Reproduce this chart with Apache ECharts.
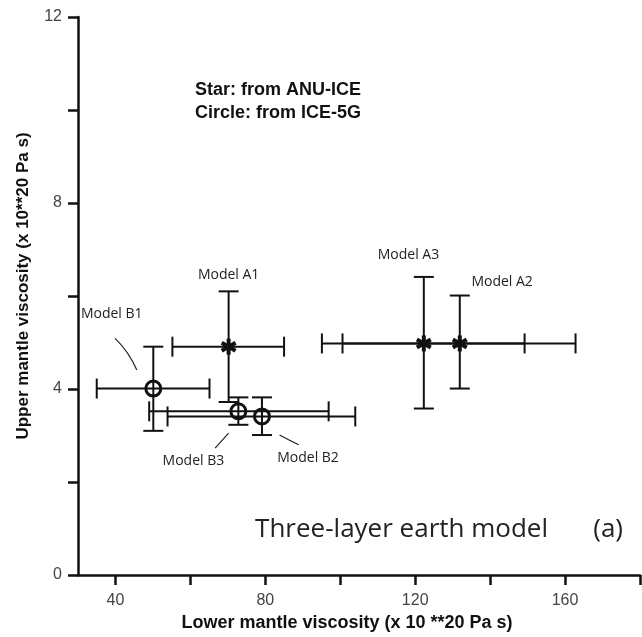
<!DOCTYPE html>
<html>
<head>
<meta charset="utf-8">
<style>
  html, body { margin: 0; padding: 0; background: #fff; }
  #chart { width: 642px; height: 637px; }
</style>
<script src="https://cdn.jsdelivr.net/npm/echarts@6/dist/echarts.min.js"></script>
</head>
<body>
<div id="chart"></div>
<script>
// values (x: lower mantle, y: upper mantle, both x 10**20 Pa s)
const models = ['Model A1', 'Model A2', 'Model A3', 'Model B1', 'Model B2', 'Model B3'];
const iceModel = ['ANU-ICE', 'ANU-ICE', 'ANU-ICE', 'ICE-5G', 'ICE-5G', 'ICE-5G'];
const lowerVisc = [70.2, 131.9, 122.3, 50.1, 79.1, 72.8];
const lowerMin = [55.2, 100.6, 95.1, 35.0, 53.9, 49.0];
const lowerMax = [85.0, 162.8, 149.2, 65.1, 104.0, 96.9];
const upperVisc = [4.91, 4.98, 4.98, 4.01, 3.41, 3.52];
const upperMin = [3.72, 4.01, 3.58, 3.10, 3.01, 3.23];
const upperMax = [6.10, 6.01, 6.41, 4.91, 3.82, 3.82];

const xTicks = [40, 60, 80, 100, 120, 140, 160, 180];
const xTickLabels = [40, 80, 120, 160];
const yTickLabels = [0, 4, 8, 12];

// model label anchors, in data coords
const labelX = [70.2, 143.2, 118.2, 39.0, 91.4, 60.8];
const labelY = [6.46, 6.30, 6.88, 5.62, 2.52, 2.46];
// leader lines for the B models [x0, y0, xCtrl, yCtrl, x1, y1]
const leaders = [
  [39.9, 5.09, 43.6, 4.80, 45.7, 4.41],
  [83.8, 3.01, 86.3, 2.90, 88.9, 2.80],
  [70.2, 3.05, 68.4, 2.89, 66.6, 2.73]
];

const ink = '#111';
const rows = models.map((m, i) => [lowerVisc[i], upperVisc[i], lowerMin[i], lowerMax[i], upperMin[i], upperMax[i], m]);
const starRows = rows.filter((r, i) => iceModel[i] === 'ANU-ICE');
const circleRows = rows.filter((r, i) => iceModel[i] === 'ICE-5G');

const chart = echarts.init(document.getElementById('chart'));

function errorBars(params, api) {
  const x = api.value(0), y = api.value(1);
  const l = api.coord([api.value(2), y]);
  const r = api.coord([api.value(3), y]);
  const b = api.coord([x, api.value(4)]);
  const t = api.coord([x, api.value(5)]);
  const cap = 10;
  const style = { stroke: ink, lineWidth: 2 };
  const seg = (x1, y1, x2, y2) => ({ type: 'line', shape: { x1, y1, x2, y2 }, style });
  return {
    type: 'group',
    children: [
      seg(l[0], l[1], r[0], r[1]),
      seg(l[0], l[1] - cap, l[0], l[1] + cap),
      seg(r[0], r[1] - cap, r[0], r[1] + cap),
      seg(b[0], b[1], t[0], t[1]),
      seg(b[0] - cap, b[1], b[0] + cap, b[1]),
      seg(t[0] - cap, t[1], t[0] + cap, t[1])
    ]
  };
}

function star(params, api) {
  const c = api.coord([api.value(0), api.value(1)]);
  const r = 8;
  const children = [];
  for (let k = 0; k < 3; k++) {
    const a = Math.PI / 2 + k * Math.PI / 3;
    children.push({
      type: 'line',
      shape: { x1: c[0] - r * Math.cos(a), y1: c[1] - r * Math.sin(a), x2: c[0] + r * Math.cos(a), y2: c[1] + r * Math.sin(a) },
      style: { stroke: ink, lineWidth: 4 }
    });
  }
  return { type: 'group', children };
}

const option = {
  animation: false,
  grid: { left: 78, right: 2, top: 17, bottom: 60 },
  xAxis: {
    type: 'value',
    min: 30,
    max: 180,
    name: 'Lower mantle viscosity (x 10 **20 Pa s)',
    nameLocation: 'middle',
    nameGap: 39,
    nameTextStyle: { fontFamily: 'Liberation Sans', fontWeight: 'bold', fontSize: 18, color: '#111', padding: [0, 24, 0, 0] },
    axisLine: { lineStyle: { color: ink, width: 2.5 } },
    axisTick: { customValues: xTicks, length: 10, lineStyle: { color: ink, width: 2.5 } },
    axisLabel: { customValues: xTickLabels, margin: 18, fontFamily: 'Liberation Sans', fontSize: 16, color: '#444' },
    splitLine: { show: false }
  },
  yAxis: {
    type: 'value',
    min: 0,
    max: 12,
    interval: 2,
    name: 'Upper mantle viscosity (x 10**20 Pa s)',
    nameLocation: 'middle',
    nameGap: 46,
    nameTextStyle: { fontFamily: 'Liberation Sans', fontWeight: 'bold', fontSize: 17, color: '#111', padding: [0, 0, 0, 20] },
    axisLine: { lineStyle: { color: ink, width: 2.5 } },
    axisTick: { length: 10, lineStyle: { color: ink, width: 2.5 } },
    axisLabel: { customValues: yTickLabels, margin: 16, fontFamily: 'Liberation Sans', fontSize: 16, color: '#444' },
    splitLine: { show: false }
  },
  graphic: [
    { type: 'text', left: 195, top: 81, style: { text: 'Star: from ANU-ICE', font: 'bold 18px "Liberation Sans"', fill: '#111' } },
    { type: 'text', left: 195, top: 104, style: { text: 'Circle: from ICE-5G', font: 'bold 18px "Liberation Sans"', fill: '#111' } },
    { type: 'text', right: 94, top: 517, style: { text: 'Three-layer earth model', font: '26px "Open Sans"', fill: '#222' } },
    { type: 'text', right: 19, top: 517, style: { text: '(a)', font: '26px "Open Sans"', fill: '#222' } }
  ],
  series: [
    { type: 'custom', name: 'error', renderItem: errorBars, data: rows, z: 2 },
    { type: 'custom', name: 'ANU-ICE', renderItem: star, data: starRows, z: 3 },
    {
      type: 'scatter', name: 'ICE-5G', data: circleRows,
      symbol: 'circle', symbolSize: 15,
      itemStyle: { color: 'rgba(0,0,0,0)', borderColor: ink, borderWidth: 3, opacity: 1 },
      z: 3
    },
    {
      type: 'custom', name: 'labels', silent: true,
      data: models.map((m, i) => [labelX[i], labelY[i], m]),
      renderItem: (params, api) => {
        const p = api.coord([api.value(0), api.value(1)]);
        return {
          type: 'text', x: p[0], y: p[1],
          style: { text: models[params.dataIndex], font: '14px "Open Sans"', fill: '#222', align: 'center', verticalAlign: 'middle' }
        };
      }
    },
    {
      type: 'custom', name: 'leaders', silent: true,
      data: leaders,
      renderItem: (params, api) => {
        const a = api.coord([api.value(0), api.value(1)]);
        const c = api.coord([api.value(2), api.value(3)]);
        const b = api.coord([api.value(4), api.value(5)]);
        return {
          type: 'bezierCurve',
          shape: { x1: a[0], y1: a[1], cpx1: c[0], cpy1: c[1], x2: b[0], y2: b[1] },
          style: { stroke: '#222', lineWidth: 1.2, fill: null }
        };
      }
    }
  ]
};

chart.setOption(option);
window.addEventListener('resize', () => chart.resize());
</script>
</body>
</html>
